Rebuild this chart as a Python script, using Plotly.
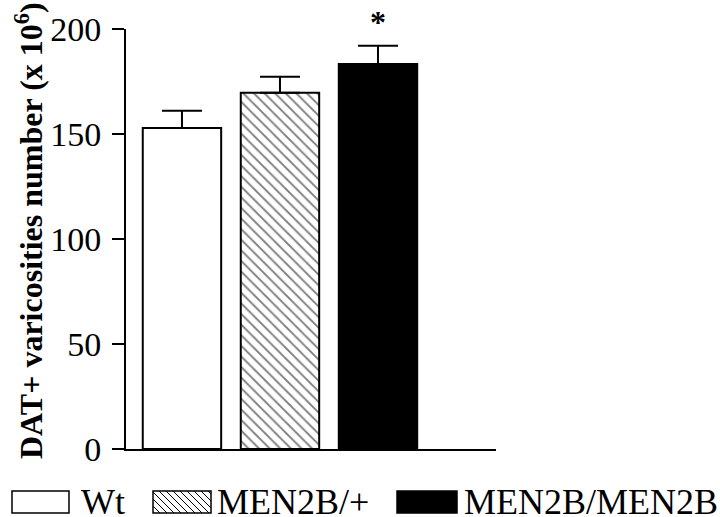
import plotly.graph_objects as go

categories = ["Wt", "MEN2B/+", "MEN2B/MEN2B"]
means = [152.9, 169.7, 183.3]
sems = [8.2, 7.6, 8.7]
significance = ["", "", "*"]
y_ticks = [0, 50, 100, 150, 200]
y_title = "DAT+ varicosities number (x 10<sup>6</sup>)"

FONT = "Liberation Serif, Times New Roman, serif"
W, H = 720, 517
L, R, T, B = 126, 224, 29, 68
PW, PH = W - L - R, H - T - B

fills = ["white", "white", "black"]
patterns = ["", "\\", ""]

fig = go.Figure()
xs = list(range(len(categories)))
for i, c in enumerate(categories):
    fig.add_trace(go.Bar(
        x=[xs[i]], y=[means[i]], width=0.8, name=c, showlegend=False,
        marker=dict(color=fills[i], line=dict(color="black", width=2),
                    pattern=dict(shape=patterns[i], fgcolor="black", bgcolor="white",
                                 size=7.5, solidity=0.25) if patterns[i] else None),
        error_y=dict(type="data", array=[sems[i]], arrayminus=[0], symmetric=False,
                     color="black", thickness=2, width=20),
    ))
    if significance[i]:
        fig.add_annotation(x=xs[i], y=means[i] + sems[i], text="<b>" + significance[i] + "</b>",
                           showarrow=False, yanchor="bottom", yshift=4,
                           font=dict(family=FONT, size=32, color="black"))


def px2paper(px, py):
    return (px - L) / PW, (H - B - py) / PH


shapes = []
legend_boxes = [(12, 69), (153, 211), (397, 457)]
label_x = [79, 215, 462]
by0, by1 = 491, 513
for i, (x0, x1) in enumerate(legend_boxes):
    a = px2paper(x0, by1)
    b = px2paper(x1, by0)
    shapes.append(dict(type="rect", xref="paper", yref="paper", x0=a[0], y0=a[1], x1=b[0], y1=b[1],
                       fillcolor=fills[i], line=dict(color="black", width=1.5), layer="above"))
    if patterns[i]:
        step = 7
        hgt = by1 - by0
        c = x0 - hgt
        while c < x1:
            ya, yb = by0, by1
            xa, xb = c, c + hgt
            if xa < x0:
                ya = by0 + (x0 - c)
                xa = x0
            if xb > x1:
                yb = by0 + (x1 - c)
                xb = x1
            if xb > xa + 0.5:
                p = px2paper(xa, ya)
                q = px2paper(xb, yb)
                shapes.append(dict(type="line", xref="paper", yref="paper", x0=p[0], y0=p[1],
                                   x1=q[0], y1=q[1], line=dict(color="black", width=1), layer="above"))
            c += step
    lx, ly = px2paper(label_x[i], (by0 + by1) / 2)
    fig.add_annotation(xref="paper", yref="paper", x=lx, y=ly, text=categories[i], showarrow=False,
                       xanchor="left", yanchor="middle",
                       font=dict(family=FONT, size=36, color="black"))

tx, ty = px2paper(29, 231)
fig.add_annotation(xref="paper", yref="paper", x=tx, y=ty, text="<b>" + y_title + "</b>",
                   textangle=-90, showarrow=False, xanchor="center", yanchor="middle",
                   font=dict(family=FONT, size=32, color="black"))

fig.update_layout(
    width=W, height=H, margin=dict(l=L, r=R, t=T, b=B),
    plot_bgcolor="white", paper_bgcolor="white",
    shapes=shapes, bargap=0.2,
    font=dict(family=FONT, color="black"),
    xaxis=dict(range=[-0.571, 3.204], showticklabels=False, ticks="", showgrid=False,
               zeroline=False, showline=True, linecolor="black", linewidth=2),
    yaxis=dict(range=[0, 200], tickvals=y_ticks, ticks="outside", ticklen=12, tickwidth=2,
               tickcolor="black", showgrid=False, zeroline=False, showline=True,
               linecolor="black", linewidth=2, tickfont=dict(family=FONT, size=34, color="black"),
               ticklabelstandoff=4),
)

fig.write_html("out.html", config={"displayModeBar": False},
               post_script="document.body.style.margin='0';document.body.style.overflow='hidden';")
